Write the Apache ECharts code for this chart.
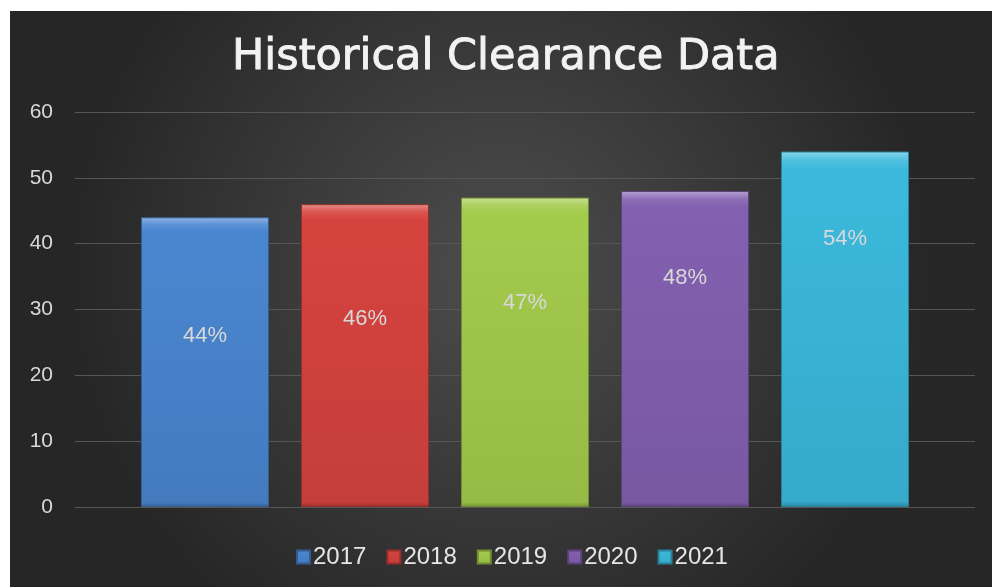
<!DOCTYPE html>
<html>
<head>
<meta charset="utf-8">
<script src="https://cdn.jsdelivr.net/npm/echarts@6/dist/echarts.min.js"></script>
<style>
  html, body { margin: 0; padding: 0; background: #ffffff; }
  #chart { position: absolute; left: 10px; top: 11px; width: 982px; height: 576px; }
</style>
</head>
<body>
<div id="chart"></div>
<script>
// series (one per year) and their values
const years = ['2017', '2018', '2019', '2020', '2021'];
const clearance = [44, 46, 47, 48, 54];
const barColors = ['#4a86d0', '#d6433f', '#a3cb4c', '#8360b0', '#3bb9dc'];
// where the % label sits inside each bar (from top)
const labelY = ['41%', '38%', '34%', '27.5%', '24.5%'];
const yTicks = [0, 10, 20, 30, 40, 50, 60];

function shade(hex, amt) {
  const n = parseInt(hex.slice(1), 16);
  let r = (n >> 16) & 255, g = (n >> 8) & 255, b = n & 255;
  const f = v => Math.max(0, Math.min(255, Math.round(amt > 0 ? v + (255 - v) * amt : v * (1 + amt))));
  return 'rgb(' + f(r) + ',' + f(g) + ',' + f(b) + ')';
}

const chart = echarts.init(document.getElementById('chart'));

const series = years.map((y, i) => ({
  name: y,
  type: 'bar',
  data: [clearance[i]],
  barWidth: 128,
  barGap: '25%',
  itemStyle: {
    color: {
      type: 'linear', x: 0, y: 0, x2: 0, y2: 1,
      colorStops: [
        { offset: 0, color: shade(barColors[i], 0.4) },
        { offset: 0.025, color: shade(barColors[i], 0.1) },
        { offset: 0.05, color: barColors[i] },
        { offset: 0.985, color: shade(barColors[i], -0.08) },
        { offset: 1, color: shade(barColors[i], -0.3) }
      ]
    },
    borderColor: shade(barColors[i], -0.3),
    borderWidth: 1
  },
  label: {
    show: true,
    position: ['50%', labelY[i]],
    align: 'center',
    verticalAlign: 'middle',
    formatter: '{c}%',
    color: '#d9d9d9',
    fontSize: 22,
    fontFamily: 'Liberation Sans, Arial, sans-serif'
  }
}));

chart.setOption({
  backgroundColor: {
    type: 'radial', x: 0.5, y: 0.45, r: 0.75,
    colorStops: [
      { offset: 0, color: '#4d4d4d' },
      { offset: 1, color: '#262626' }
    ]
  },
  animation: false,
  title: {
    text: 'Historical Clearance Data',
    left: 217,
    top: 20,
    textStyle: {
      color: '#f2f2f2',
      fontSize: 43,
      fontWeight: 'normal',
      fontFamily: 'DejaVu Sans, sans-serif',
      textBorderColor: '#f2f2f2',
      textBorderWidth: 0.9
    }
  },
  legend: {
    data: years,
    bottom: 13,
    left: 281,
    icon: 'rect',
    itemWidth: 13,
    itemHeight: 13,
    itemGap: 20,
    textStyle: {
      color: '#e6e6e6',
      fontSize: 24,
      padding: [0, 0, 0, -2],
      fontFamily: 'Liberation Sans, Arial, sans-serif'
    }
  },
  grid: { left: 65, right: 17, top: 101, bottom: 80 },
  xAxis: {
    type: 'category',
    data: [''],
    axisLine: { show: false },
    axisTick: { show: false },
    axisLabel: { show: false }
  },
  yAxis: {
    type: 'value',
    min: yTicks[0],
    max: yTicks[yTicks.length - 1],
    interval: 10,
    axisLine: { show: false },
    axisTick: { show: false },
    splitLine: { lineStyle: { color: '#565656', width: 1 } },
    axisLabel: {
      color: '#d9d9d9',
      fontSize: 21,
      margin: 22,
      fontFamily: 'Liberation Sans, Arial, sans-serif'
    }
  },
  series: series
});
</script>
</body>
</html>
